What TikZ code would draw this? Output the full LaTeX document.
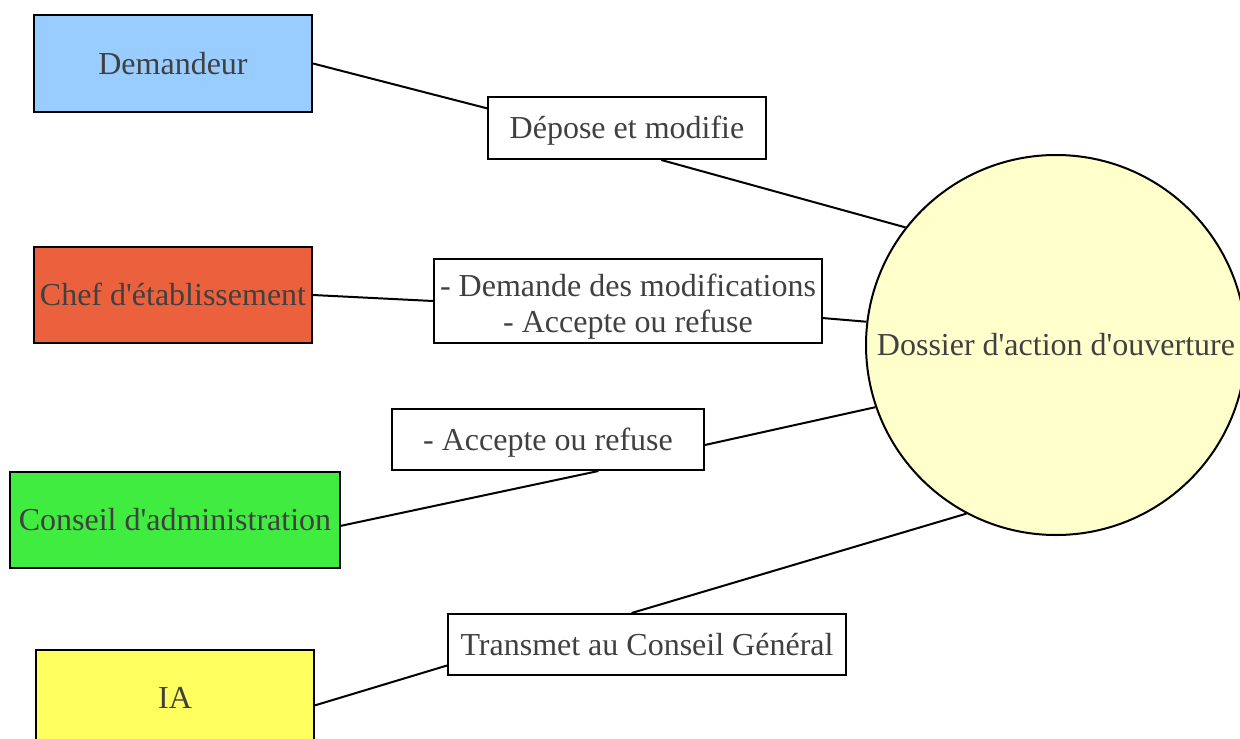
\documentclass[tikz,border=0pt]{standalone}
\usepackage{fontspec}
\setmainfont{Liberation Serif}[Ligatures=TeXOff]
\definecolor{txt}{HTML}{404040}
\definecolor{cblue}{HTML}{99CCFF}
\definecolor{cred}{HTML}{EC613D}
\definecolor{cgreen}{HTML}{3FEC3F}
\definecolor{cyel}{HTML}{FFFF60}
\definecolor{ccirc}{HTML}{FFFFCC}
\begin{document}
\begin{tikzpicture}[x=0.5pt,y=-0.5pt,
  every node/.style={font=\fontsize{16}{18}\selectfont, text=txt, inner sep=0pt},
  oneline/.style={text height=11pt, text depth=0.4pt},
  actor/.style={draw=black, line width=1pt, rectangle, minimum height=48pt, oneline},
  lbl/.style={draw=black, line width=1pt, fill=white, rectangle, align=center},
  conn/.style={draw=black, line width=1pt}]
\useasboundingbox (0,0) rectangle (1240,738);
\node[actor, fill=cblue, minimum width=139pt] (dem) at (173,63.5) {Demandeur};
\node[actor, fill=cred, minimum width=139pt] (chef) at (173,295) {Chef d'établissement};
\node[actor, fill=cgreen, minimum width=165pt] (ca) at (175,520) {Conseil d'administration};
\node[actor, fill=cyel, minimum width=139pt] (ia) at (175,698) {IA};
\node[draw=black, line width=1pt, circle, fill=ccirc, minimum size=190pt, oneline] (dos) at (1056,345) {Dossier d'action d'ouverture};
\node[lbl, oneline, minimum width=139pt, minimum height=31pt] (l1) at (627,128) {Dépose et modifie};
\node[lbl, minimum width=194pt, minimum height=42pt, text height=18pt, text depth=18pt] (l2) at (628,301) {\raisebox{-7.3pt}{\begin{tabular}[c]{@{}c@{}}- Demande des modifications\\- Accepte ou refuse\end{tabular}}};
\node[lbl, oneline, minimum width=156pt, minimum height=30.5pt] (l3) at (548,439.5) {- Accepte ou refuse};
\node[lbl, oneline, minimum width=199pt, minimum height=30.5pt] (l4) at (647,644.5) {Transmet au Conseil Général};
\draw[conn] (dem.east) -- (l1.172.6);
\draw[conn] (l1.-43.2) -- (dos.142.2);
\draw[conn] (chef.east) -- (l2.west);
\draw[conn] (l2.-5.6) -- (dos.173);
\draw[conn] (ca.-2.8) -- (l3.-32.4);
\draw[conn] (l3.-2) -- (dos.199.5);
\draw[conn] (ia.-3.7) -- (l4.186.7);
\draw[conn] (l4.116.2) -- (dos.242.6);
\end{tikzpicture}
\end{document}
